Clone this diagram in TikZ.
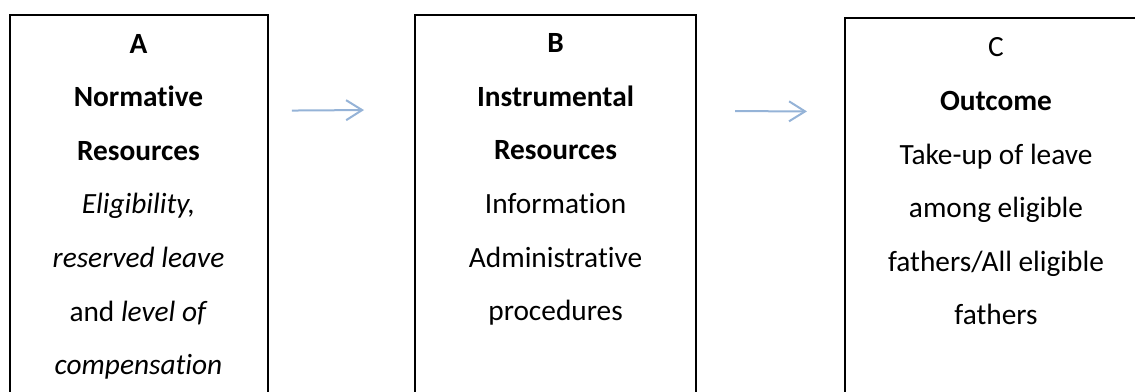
\documentclass[tikz,border=0pt]{standalone}
\usepackage{fontspec}
\setmainfont{Carlito}[Ligatures=NoCommon]
\usepackage{xcolor}
\usepackage{tikz}
\usetikzlibrary{arrows.meta}
\definecolor{lvInk}{HTML}{000000}
\definecolor{lvArrow}{HTML}{95B3D7}
\tikzset{
  resbox/.style={rectangle,draw=lvInk,line width=0.75pt,
    anchor=north west,align=flush center,inner xsep=0pt,inner ysep=0pt,
    text height=14.3pt,text depth=140pt,
    font=\fontsize{11pt}{20.1pt}\selectfont,text=lvInk},
  link/.style={-{Straight Barb[length=6pt,width=7.5pt]},
    line width=0.75pt,color=lvArrow},
}

\begin{document}
\begin{tikzpicture}[x=0.375pt,y=0.375pt]
  \useasboundingbox (0,0) rectangle (1135,-391);

  % the three stages, left to right
  \node[resbox,text width=96.75pt] (norm) at (8.5,-14)
    {\textbf{A}\\\textbf{Normative}\\\textbf{Resources}\\
     \textit{Eligibility,}\\\textit{reserved leave}\\
     and \textit{level of}\\\textit{compensation}};
  \node[resbox,text width=105.4pt] (instr) at (414,-13.5)
    {\textbf{B}\\\textbf{Instrumental}\\\textbf{Resources}\\
     Information\\Administrative\\procedures};
  \node[resbox,text width=113.25pt,text height=14.6pt] (outc) at (844,-17)
    {C\\\textbf{Outcome}\\Take-up of leave\\among eligible\\
     fathers/All eligible\\fathers};

  \draw[link] ([xshift=8.8pt,yshift=-36.2pt]norm.north east)
    -- ([xshift=-18.75pt,yshift=-36.2pt]instr.north west);
  \draw[link] ([xshift=14.25pt,yshift=-36.6pt]instr.north east)
    -- ([xshift=-13.9pt,yshift=-35.4pt]outc.north west);
\end{tikzpicture}
\end{document}
